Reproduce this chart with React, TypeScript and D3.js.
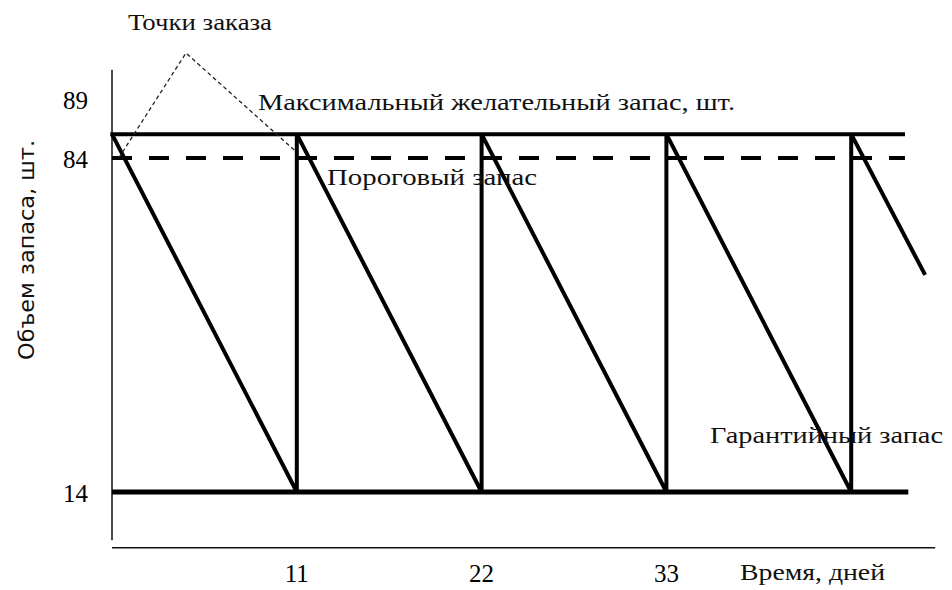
import React, { useEffect, useRef } from "react"
import * as d3 from "d3"

// inventory sawtooth: day -> stock
const days = [0, 11, 11, 22, 22, 33, 33, 44, 44, 48.4]
const stock = [89, 14, 89, 14, 89, 14, 89, 14, 89, 59.5]

const maxLevel = 89
const threshold = 84
const safety = 14

const xTicks = [11, 22, 33]
const yTicks = [89, 84, 14]

// pointer lines to the order points
const orderDays = [0.4, 4.4, 10.9]
const orderValues = [84, 106, 85.5]

const width = 952
const height = 590

const App = () => {
  const ref = useRef<SVGSVGElement>(null)

  useEffect(() => {
    const svg = d3.select(ref.current)
    svg.selectAll("*").remove()

    const x = d3.scaleLinear().domain([0, 11]).range([112, 296.8])
    const y = d3.scaleLinear().domain([14, 84]).range([492, 158])
    const serif = "'Liberation Serif', 'Times New Roman', serif"

    // axes (plain lines, no tick marks)
    svg.append("line")
      .attr("x1", x(0)).attr("x2", x(0))
      .attr("y1", y(102.5)).attr("y2", y(3.9))
      .attr("stroke", "#111").attr("stroke-width", 1.5)
    svg.append("line")
      .attr("x1", x(0)).attr("x2", x(49))
      .attr("y1", y(2.3)).attr("y2", y(2.3))
      .attr("stroke", "#111").attr("stroke-width", 1.5)

    // reference levels
    svg.append("line")
      .attr("x1", x(-0.1)).attr("x2", x(47.2))
      .attr("y1", y(maxLevel)).attr("y2", y(maxLevel))
      .attr("stroke", "#000").attr("stroke-width", 4)
    svg.append("line")
      .attr("x1", x(0)).attr("x2", x(47.2))
      .attr("y1", y(threshold)).attr("y2", y(threshold))
      .attr("stroke", "#000").attr("stroke-width", 4)
      .attr("stroke-dasharray", "20 17")
    svg.append("line")
      .attr("x1", x(0)).attr("x2", x(47.4))
      .attr("y1", y(safety)).attr("y2", y(safety))
      .attr("stroke", "#000").attr("stroke-width", 5)

    // sawtooth
    const line = d3.line<number>()
      .x((d, i) => x(days[i]))
      .y(d => y(d))
    svg.append("path")
      .datum(stock)
      .attr("d", line)
      .attr("fill", "none")
      .attr("stroke", "#000")
      .attr("stroke-width", 4)
      .attr("stroke-linejoin", "miter")

    // order point pointers
    const pointer = d3.line<number>()
      .x((d, i) => x(orderDays[i]))
      .y(d => y(d))
    svg.append("path")
      .datum(orderValues)
      .attr("d", pointer)
      .attr("fill", "none")
      .attr("stroke", "#222")
      .attr("stroke-width", 1.3)
      .attr("stroke-dasharray", "4 3")

    // tick labels
    svg.selectAll(".ytick")
      .data(yTicks)
      .join("text")
      .attr("x", 88)
      .attr("y", d => y(d) + (d === maxLevel ? -25 : 10))
      .attr("text-anchor", "end")
      .attr("font-family", serif)
      .attr("font-size", 25)
      .text(d => d)
    svg.selectAll(".xtick")
      .data(xTicks)
      .join("text")
      .attr("x", d => x(d))
      .attr("y", 582)
      .attr("text-anchor", "middle")
      .attr("font-family", serif)
      .attr("font-size", 25)
      .text(d => d)

    const label = (t: string, lx: number, ly: number, len?: number) => {
      const el = svg.append("text")
        .attr("x", lx).attr("y", ly)
        .attr("font-family", serif)
        .attr("font-size", 24)
        .attr("fill", "#111")
        .text(t)
      if (len) el.attr("textLength", len).attr("lengthAdjust", "spacingAndGlyphs")
    }
    label("Точки заказа", 128, 30, 144)
    label("Максимальный желательный запас, шт.", 258, 110, 477)
    label("Пороговый  запас", 327, 185, 210)
    label("Гарантийный запас", 710, 443, 233)
    label("Время, дней", 740, 580, 145)

    svg.append("text")
      .attr("transform", "translate(34,250) rotate(-90)")
      .attr("text-anchor", "middle")
      .attr("font-family", "'DejaVu Sans', Verdana, sans-serif")
      .attr("font-size", 21)
      .attr("textLength", 220)
      .attr("lengthAdjust", "spacingAndGlyphs")
      .attr("fill", "#111")
      .text("Объем запаса, шт.")
  }, [])

  return (
    <svg
      ref={ref}
      width={width}
      height={height}
      style={{ position: "absolute", top: 0, left: 0, background: "#fff" }}
    />
  )
}

export default App
